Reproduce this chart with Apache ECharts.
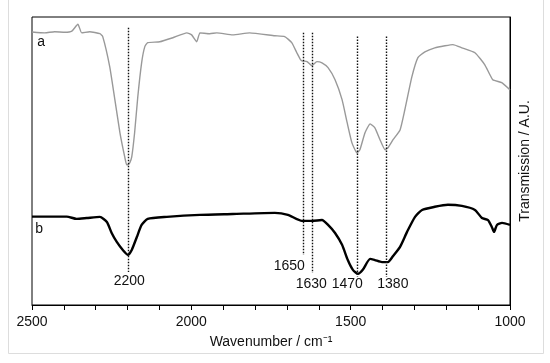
<!DOCTYPE html>
<html>
<head>
<meta charset="utf-8">
<script src="https://cdn.jsdelivr.net/npm/echarts@6/dist/echarts.min.js"></script>
<style>
html,body{margin:0;padding:0;background:#fff;}
#chart{width:550px;height:363px;}
</style>
</head>
<body>
<div id="chart"></div>
<script>
// Spectrum a (grey): wavenumber / transmission (arbitrary units)
const waveA = [2500,2460,2429,2397,2375,2356,2344,2319,2287,2278,2256,2240,2224,2209,2203,2199,2193,2187,2178,2168,2156,2146,2137,2099,2058,2014,1999,1983,1973,1942,1920,1870,1817,1738,1707,1685,1669,1659,1653,1637,1622,1606,1590,1571,1549,1527,1511,1496,1480,1471,1455,1439,1424,1408,1392,1383,1367,1345,1330,1308,1289,1267,1236,1204,1179,1151,1110,1079,1054,1026,1000];
const transA = [94.8,94.5,94.9,94.7,95.1,97.5,94.5,94.9,94.2,93.2,82.7,71.3,59.8,51.4,48.7,48.7,49.4,51.4,59.8,72.3,84.1,89.7,91.1,91.4,92.8,94.5,93.8,91.4,94.5,94.2,94.5,93.8,94.5,93.5,93.2,91.1,87.6,85.5,84.8,84.5,83.1,84.5,84.1,82.4,78.2,71.3,63.3,56.3,52.8,53.9,59.8,62.9,61.5,57.4,53.9,54.6,57.4,60.8,67.8,79.2,85.9,87.9,89.3,90.0,90.4,89.3,87.6,83.4,78.2,77.2,74.7];
// Spectrum b (black)
const waveB = [2500,2391,2360,2328,2287,2265,2250,2234,2215,2199,2187,2171,2156,2137,2077,1973,1870,1738,1697,1653,1622,1590,1571,1549,1527,1509,1493,1477,1462,1439,1424,1402,1383,1367,1345,1323,1298,1276,1236,1195,1151,1110,1088,1069,1057,1050,1041,1025,1000];
const transB = [30.7,30.7,29.9,30.2,30.6,28.8,25.0,21.9,19.1,17.4,19.1,23.6,27.8,29.9,30.6,31.3,31.6,32.0,31.3,29.2,29.2,29.5,27.8,25.0,20.9,15.6,12.2,10.8,12.2,16.0,15.6,14.9,14.9,17.0,20.2,25.4,30.6,33.0,34.1,34.8,34.4,33.0,30.2,29.5,27.1,25.4,27.8,28.5,27.8];
// Marker lines (dotted)
const markerNames = ['2200','1650','1630','1470','1380'];
const markerWave = [2198,1650,1619,1480,1388];
const markerTop = [96.3,94.5,94.5,93.2,93.2];
const markerBottom = [11.5,17.4,11.1,9.7,9.7];
// Marker label anchor points
const labelWave = [2193,1691,1622,1509,1366];
const labelTrans = [8.0,13.2,7.0,7.0,7.0];
// Curve tags
const tagNames = ['a','b'];
const tagWave = [2470,2476];
const tagTrans = [91.1,26.1];
// Axis
const xTicks = [2500,2000,1500,1000];

const chart = echarts.init(document.getElementById('chart'));
const FONT = '"Liberation Sans", Arial, sans-serif';

const seriesA = waveA.map((w,i)=>[w,transA[i]]);
const seriesB = waveB.map((w,i)=>[w,transB[i]]);
const mlData = markerWave.map((w,i)=>[{coord:[w,markerTop[i]]},{coord:[w,markerBottom[i]]}]);
const lblData = labelWave.map((w,i)=>({value:[w,labelTrans[i]], name:markerNames[i]}));
const tagData = tagWave.map((w,i)=>({value:[w,tagTrans[i]], name:tagNames[i]}));
const labelStyle = {show:true,position:[0,0],align:'center',verticalAlign:'middle',
  formatter:p=>p.name,color:'#111',fontSize:14,fontFamily:FONT,textBorderWidth:0};

chart.setOption({
  animation:false,
  backgroundColor:'#fff',
  graphic:[{type:'rect', shape:{x:8.5,y:-2,width:535,height:355.5}, style:{fill:'none',stroke:'#dddddd',lineWidth:1}, silent:true, z:-10}],
  grid:{left:32,top:17,right:40,bottom:58,show:true,borderColor:'#000',borderWidth:1},
  xAxis:{
    type:'value', min:1000, max:2500, interval:500, inverse:true,
    axisLine:{show:true,lineStyle:{color:'#000',width:1}},
    axisTick:{show:true,inside:false,length:5,lineStyle:{color:'#000'}},
    minorTick:{show:true,splitNumber:5,length:5,lineStyle:{color:'#000'}},
    splitLine:{show:false},
    axisLabel:{color:'#111',fontSize:14,fontFamily:FONT,margin:10,
      formatter:v=>xTicks.includes(v)?String(v):''},
    name:'Wavenumber / cm\u207B\u00B9', nameLocation:'middle', nameGap:30,
    nameTextStyle:{color:'#111',fontSize:14,fontFamily:FONT}
  },
  yAxis:{
    type:'value', min:0, max:100, position:'right',
    axisLine:{show:true,lineStyle:{color:'#000'}},
    axisTick:{show:false}, axisLabel:{show:false}, splitLine:{show:false},
    name:'Transmission / A.U.', nameLocation:'middle', nameGap:8, nameRotate:90,
    nameTextStyle:{color:'#111',fontSize:14,fontFamily:FONT}
  },
  series:[
    {type:'line', data:seriesA, symbol:'none', smooth:0.15, lineStyle:{color:'#999999',width:1.4}, z:3},
    {type:'line', data:seriesB, symbol:'none', smooth:0.2, lineStyle:{color:'#000',width:2.4}, z:4,
      markLine:{silent:true, symbol:['none','none'], label:{show:false},
        lineStyle:{color:'#111',type:[1.5,1.5],width:1.4}, data:mlData}},
    {type:'scatter', data:lblData, symbolSize:1, itemStyle:{color:'rgba(0,0,0,0)',opacity:1}, z:5, label:labelStyle},
    {type:'scatter', data:tagData, symbolSize:1, itemStyle:{color:'rgba(0,0,0,0)',opacity:1}, z:5, label:labelStyle}
  ]
});
</script>
</body>
</html>
